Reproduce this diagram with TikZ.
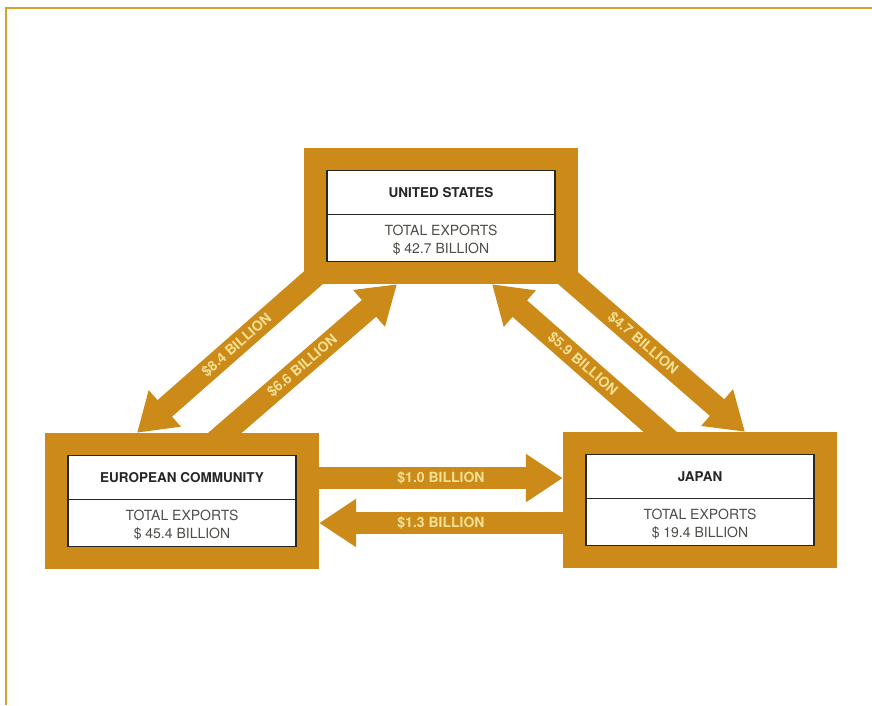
\documentclass[tikz,border=0pt]{standalone}
\usepackage{fontspec}
\setmainfont{TeX Gyre Heros}
\usetikzlibrary{arrows.meta, positioning}

\definecolor{ochre}{RGB}{204,139,24}
\definecolor{rim}{RGB}{214,160,42}
\definecolor{cream}{RGB}{242,224,150}
\definecolor{ink}{RGB}{38,38,36}
\definecolor{greyink}{RGB}{78,78,72}

\begin{document}
\begin{tikzpicture}[x=1pt, y=-1pt,
  block/.style={fill=ochre, minimum width=274pt, minimum height=136pt, inner sep=0pt},
  panel/.style={fill=white, draw=ink, line width=1.3pt, minimum width=228pt, minimum height=91pt, inner sep=0pt},
  blocname/.style={text=ink, font=\fontsize{13.5}{15}\selectfont\bfseries},
  blocttl/.style={text=greyink, font=\fontsize{14}{18}\selectfont, align=center},
  flow/.style={draw=ochre, line width=22pt, -{Triangle[width=46pt,length=37pt]}, shorten <=-14pt},
  amount/.style={text=cream, font=\fontsize{14}{15}\selectfont\bfseries, sloped}]

\useasboundingbox (0,0) rectangle (872,705);
\draw[rim, line width=2.5pt] (6,705) |- (872,8);

% the three blocs
\node[block] (us) at (441,216) {};
\node[block] (ec) at (182,501) {};
\node[block] (jp) at (700,500) {};

\node[panel] (usp) at (us.center) {};
\draw[ink, line width=1.1pt] ([yshift=-45pt]usp.north west) -- ([yshift=-45pt]usp.north east);
\node[blocname] (usname) at ([yshift=-23pt]usp.north) {UNITED STATES};
\node[blocttl] (ustotal) at ([yshift=22pt]usp.south) {TOTAL EXPORTS\\\$ 42.7 BILLION};

\node[panel] (ecp) at (ec.center) {};
\draw[ink, line width=1.1pt] ([yshift=-45pt]ecp.north west) -- ([yshift=-45pt]ecp.north east);
\node[blocname] (ecname) at ([yshift=-23pt]ecp.north) {EUROPEAN COMMUNITY};
\node[blocttl] (ectotal) at ([yshift=22pt]ecp.south) {TOTAL EXPORTS\\\$ 45.4 BILLION};

\node[panel] (jpp) at (jp.center) {};
\draw[ink, line width=1.1pt] ([yshift=-45pt]jpp.north west) -- ([yshift=-45pt]jpp.north east);
\node[blocname] (jpname) at ([yshift=-23pt]jpp.north) {JAPAN};
\node[blocttl] (jptotal) at ([yshift=22pt]jpp.south) {TOTAL EXPORTS\\\$ 19.4 BILLION};

% trade flows
\draw[flow] ([xshift=-135pt]us.south) -- node[amount, pos=0.41] {\$8.4 BILLION} ([xshift=-45pt]ec.north);
\draw[flow] ([xshift=43pt]ec.north) -- node[amount, pos=0.45] {\$6.6 BILLION} ([xshift=-44pt]us.south);
\draw[flow] ([xshift=-40pt]jp.north) -- node[amount, pos=0.46] {\$5.9 BILLION} ([xshift=51pt]us.south);
\draw[flow] ([xshift=134pt]us.south) -- node[amount, pos=0.4] {\$4.7 BILLION} ([xshift=45pt]jp.north);

\draw[flow] ([yshift=23pt]ec.east) -- node[amount, pos=0.5] {\$1.0 BILLION} ([yshift=23pt]ec.east -| jp.west);
\draw[flow] ([yshift=-23pt]jp.west) -- node[amount, pos=0.5] {\$1.3 BILLION} ([yshift=-23pt]jp.west -| ec.east);
\end{tikzpicture}
\end{document}
